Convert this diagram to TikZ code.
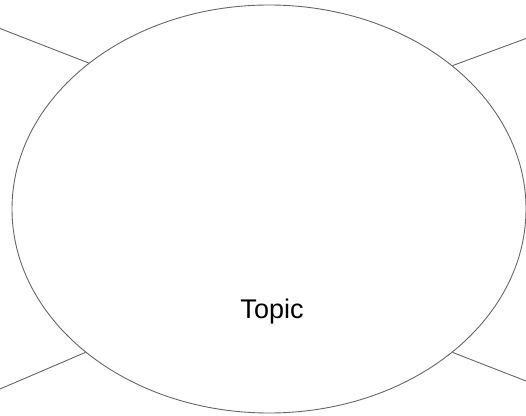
\documentclass[tikz,border=0pt]{standalone}
\usepackage{fontspec}
\setmainfont{Liberation Sans}
\usetikzlibrary{shapes.geometric}

\begin{document}
\begin{tikzpicture}[x=1pt, y=1pt, every node/.style={inner sep=0pt}]
	\tikzset{line/.style={draw=black!60, line width=0.9pt}}
	\useasboundingbox (0,0) rectangle (526,415);
	\node[ellipse, line, minimum width=514pt, minimum height=408pt] (topic) at (269,206) {};
	\node (label) at (272,103) {\fontsize{27}{32}\selectfont Topic};
	\coordinate (tl) at (0,386.5);
	\coordinate (tr) at (526,376.5);
	\coordinate (bl) at (0,26);
	\coordinate (br) at (526,34);
	\draw[line] (tl) -- (topic.141.3);
	\draw[line] (tr) -- (topic.38);
	\draw[line] (bl) -- (topic.218.2);
	\draw[line] (br) -- (topic.322.2);
\end{tikzpicture}
\end{document}
